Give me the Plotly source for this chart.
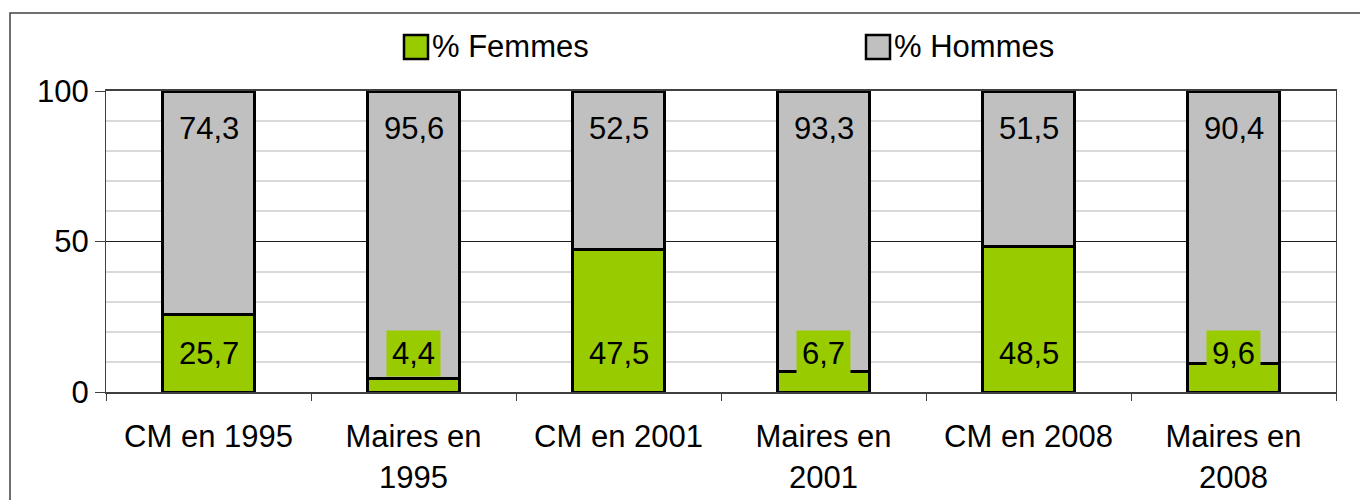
import plotly.graph_objects as go

categories = ["CM en 1995", "Maires en<br>1995", "CM en 2001", "Maires en<br>2001", "CM en 2008", "Maires en<br>2008"]
femmes = [25.7, 4.4, 47.5, 6.7, 48.5, 9.6]
hommes = [74.3, 95.6, 52.5, 93.3, 51.5, 90.4]
labels_f = ["25,7", "4,4", "47,5", "6,7", "48,5", "9,6"]
labels_h = ["74,3", "95,6", "52,5", "93,3", "51,5", "90,4"]

GREEN = "#99CC00"
GREY = "#C0C0C0"
FONT = "Liberation Sans, Arial, sans-serif"
FS = 31

fig = go.Figure()
fig.add_trace(go.Bar(x=categories, y=femmes, name="% Femmes", marker=dict(color=GREEN, line=dict(color="black", width=3)), width=0.45, showlegend=False))
fig.add_trace(go.Bar(x=categories, y=hommes, name="% Hommes", marker=dict(color=GREY, line=dict(color="black", width=3)), width=0.45, showlegend=False))

for c, lf, lh in zip(categories, labels_f, labels_h):
    fig.add_annotation(x=c, y=12.8, text=lf, showarrow=False, bgcolor=GREEN, borderpad=5,
                       font=dict(family=FONT, size=FS, color="black"), xref="x", yref="y")
    fig.add_annotation(x=c, y=87.7, text=lh, showarrow=False,
                       font=dict(family=FONT, size=FS, color="black"), xref="x", yref="y")

def px_x(p):
    return (p - 106) / 1230

def px_y(p):
    return (392 - p) / 301

# legend (manual, large keys)
legend_items = [("% Femmes", GREEN, 404), ("% Hommes", GREY, 866)]
for name, col, left in legend_items:
    fig.add_shape(type="rect", xref="paper", yref="paper", x0=px_x(left), x1=px_x(left + 24),
                  y0=px_y(59), y1=px_y(35), fillcolor=col, line=dict(color="black", width=2.5))
    fig.add_annotation(xref="paper", yref="paper", x=px_x(left + 26), y=px_y(46), xanchor="left", yanchor="middle",
                       text=name, showarrow=False, font=dict(family=FONT, size=FS, color="black"))

# outer chart border
fig.add_shape(type="rect", xref="paper", yref="paper", x0=px_x(10), x1=px_x(1380), y0=px_y(520), y1=px_y(13),
              line=dict(color="#404040", width=1.5), fillcolor="rgba(0,0,0,0)", layer="below")

fig.update_layout(
    barmode="stack",
    width=1360, height=492,
    margin=dict(l=98, r=32, t=83, b=108, autoexpand=False),
    paper_bgcolor="white", plot_bgcolor="white",
    font=dict(family=FONT, size=FS, color="black"),
    bargap=0.55,
)
fig.update_yaxes(range=[0, 100], tickvals=[0, 50, 100], ticks="outside", ticklen=10, tickcolor="#404040",
                 automargin=False,
                 showgrid=True, gridcolor="#202020", gridwidth=1,
                 minor=dict(tickvals=[10, 20, 30, 40, 60, 70, 80, 90], showgrid=True, gridcolor="#D9D9D9", gridwidth=1.5, ticks=""),
                 showline=True, linecolor="#404040", linewidth=1, mirror=True, zeroline=False,
                 tickfont=dict(family=FONT, size=FS, color="black"))
fig.update_xaxes(tickson="boundaries", ticks="outside", ticklen=7, tickcolor="#404040", automargin=False,
                 ticklabelstandoff=16,
                 showline=True, linecolor="#404040", linewidth=2, mirror=True,
                 tickfont=dict(family=FONT, size=FS, color="black"))

fig.write_html("out.html")
